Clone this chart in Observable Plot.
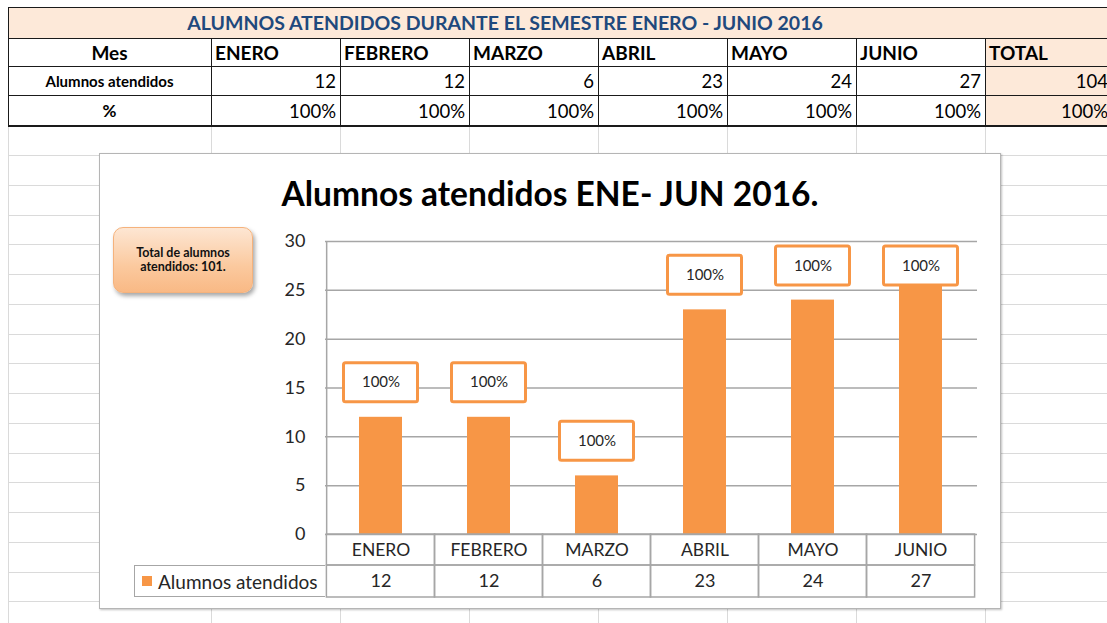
<!DOCTYPE html>
<html lang="es">
<head>
<meta charset="utf-8">
<script src="https://cdn.jsdelivr.net/npm/d3@7"></script>
<script src="https://cdn.jsdelivr.net/npm/@observablehq/plot@0.6"></script>
<style>
html,body{margin:0;padding:0;}
body{width:1107px;height:623px;overflow:hidden;position:relative;background:#fff;font-family:Lato,"Open Sans",sans-serif;color:#000;}
.cell{position:absolute;white-space:nowrap;display:flex;align-items:center;overflow:hidden;box-sizing:border-box;}
#chartbox{position:absolute;left:99px;top:153px;width:900px;height:454px;border:1px solid #b5b5b5;background:#fff;box-shadow:1px 1px 2px rgba(0,0,0,0.25);}
#chartbox svg{position:absolute;left:0;top:0;}
#ctitle{position:absolute;left:0;width:900px;top:19px;line-height:40px;text-align:center;font-size:33.5px;font-weight:bold;color:#000;white-space:nowrap;}
#callout{position:absolute;left:13px;top:73px;width:140px;height:66px;box-sizing:border-box;border:1px solid #f5b27c;border-radius:10px;
  background:linear-gradient(#fde6d3,#fbc99e 60%,#f9b985);box-shadow:2px 3px 4px rgba(0,0,0,0.35);
  display:flex;flex-direction:column;align-items:center;justify-content:center;font-size:12.5px;font-weight:bold;line-height:14px;color:#111;}
#legendcell{position:absolute;left:34px;top:411px;width:191px;height:32px;box-sizing:border-box;border:1.5px solid #a6a6a6;border-right:none;
  display:flex;align-items:center;font-size:19px;color:#262626;white-space:nowrap;}
#legendcell .sw{width:10px;height:10px;background:#F79646;margin:0 6px 0 7px;flex:none;}
</style>
</head>
<body>
<div id="sheet"></div>
<div id="chartbox"><div id="ctitle"></div><div id="callout"></div><div id="legendcell"></div></div>
<script>
// ---------- data ----------
const months = ["ENERO", "FEBRERO", "MARZO", "ABRIL", "MAYO", "JUNIO"];
const attended = [12, 12, 6, 23, 24, 27];
const percent = ["100%", "100%", "100%", "100%", "100%", "100%"];
const totalLabel = "TOTAL";
const totalAttended = 104;
const totalPercent = "100%";
const yTicks = [0, 5, 10, 15, 20, 25, 30];
const sheetTitle = "ALUMNOS ATENDIDOS DURANTE EL SEMESTRE ENERO - JUNIO 2016";
const rowHeader = "Mes";
const rowLabels = ["Alumnos atendidos", "%"];
const chartTitle = "Alumnos atendidos ENE- JUN 2016.";
const calloutLines = ["Total de alumnos", "atendidos: 101."];
const seriesName = "Alumnos atendidos";

// ---------- spreadsheet background ----------
const sheet = document.getElementById("sheet");
function box(x, y, w, h, css) {
  const d = document.createElement("div");
  d.style.cssText = `position:absolute;left:${x}px;top:${y}px;width:${w}px;height:${h}px;${css || ""}`;
  sheet.appendChild(d);
  return d;
}
function cell(x1, x2, y1, y2, s, {align = "center", bold = false, size = 18, color = "#000", pad = 4} = {}) {
  const d = box(x1, y1, x2 - x1, y2 - y1, "");
  d.className = "cell";
  d.style.justifyContent = align === "left" ? "flex-start" : align === "right" ? "flex-end" : "center";
  d.style.padding = `0 ${pad}px`;
  d.style.fontSize = size + "px";
  d.style.fontWeight = bold ? "bold" : "normal";
  d.style.color = color;
  d.textContent = s;
  return d;
}
const colEdges = [8, 211, 340, 469, 598, 727, 856, 985, 1114];
const rowEdges = [7, 38, 66, 95, 126];
for (let y = 155; y < 623; y += 29.75) box(8, Math.round(y), 1099, 1, "background:#dadada");
for (const x of colEdges.slice(0, 8)) box(x, 127, 1, 496, "background:#dadada");
// fills
box(8, 7, 1099, 31, "background:#fde9d9");
box(985, 38, 122, 88, "background:#fde9d9");
// texts
cell(8, 1002, 7, 38, sheetTitle, {bold: true, size: 19.5, color: "#1F497D"});
cell(8, 211, 38, 66, rowHeader, {bold: true, size: 19});
cell(8, 211, 66, 95, rowLabels[0], {bold: true, size: 15});
cell(8, 211, 95, 126, rowLabels[1], {bold: true, size: 17});
months.forEach((m, i) => {
  const x1 = colEdges[i + 1], x2 = colEdges[i + 2];
  cell(x1, x2, 38, 66, m, {align: "left", bold: true, size: 19, pad: 4});
  cell(x1, x2, 66, 95, String(attended[i]), {align: "right", size: 18.5, pad: 4});
  cell(x1, x2, 95, 126, percent[i], {align: "right", size: 18.5, pad: 4});
});
cell(985, 1114, 38, 66, totalLabel, {align: "left", bold: true, size: 19, pad: 4});
cell(985, 1114, 66, 95, String(totalAttended), {align: "right", size: 18.5, pad: 6});
cell(985, 1114, 95, 126, totalPercent, {align: "right", size: 18.5, pad: 6});
// borders
for (const y of rowEdges.slice(0, 4)) box(8, y, 1099, 1, "background:#1a1a1a");
box(8, 125, 1099, 2, "background:#1a1a1a");
box(8, 7, 1, 120, "background:#1a1a1a");
for (const x of colEdges.slice(1, 8)) box(x, 38, 1, 88, "background:#1a1a1a");

// ---------- chart ----------
document.getElementById("ctitle").textContent = chartTitle;
const co = document.getElementById("callout");
calloutLines.forEach(t => { const s = document.createElement("div"); s.textContent = t; co.appendChild(s); });
const lc = document.getElementById("legendcell");
lc.innerHTML = `<span class="sw"></span><span></span>`;
lc.lastChild.textContent = seriesName;

const data = months.map((m, i) => ({month: m, value: attended[i], pct: percent[i]}));
const W = 900, H = 454, mL = 225, mR = 23, mT = 87, mB = 74;
const step = (W - mL - mR) / months.length;
const halfGap = step * 0.3;
const labelY = v => Math.min(v + 3.55, 27.5);
const orange = "#F79646", lineGray = "#a6a6a6", ink = "#262626";

const chart = Plot.plot({
  width: W, height: H,
  marginLeft: mL, marginRight: mR, marginTop: mT, marginBottom: mB,
  style: {fontFamily: "Lato, sans-serif", background: "transparent", overflow: "visible"},
  x: {domain: months, paddingInner: 0.6, paddingOuter: 0.3, axis: null},
  y: {domain: [0, 30], axis: null},
  marks: [
    Plot.ruleY(yTicks, {stroke: lineGray, strokeWidth: 1.5}),
    Plot.ruleX([months[0]], {dx: -step / 2, y1: 0, y2: 30, stroke: lineGray, strokeWidth: 1.5}),
    Plot.axisY(yTicks, {tickSize: 0, tickPadding: 20, fontSize: 18, color: ink, label: null}),
    Plot.barY(data, {x: "month", y: "value", fill: orange}),
    Plot.barY(data, {x: "month", y1: d => labelY(d.value), y2: d => labelY(d.value),
      insetLeft: -15.5, insetRight: -15.5, insetTop: -19.5, insetBottom: -19.5,
      fill: "white", stroke: orange, strokeWidth: 3, rx: 2}),
    Plot.text(data, {x: "month", y: d => labelY(d.value), text: "pct", fontSize: 15, fill: ink}),
    // data table under the axis
    Plot.barY(data, {x: "month", y1: 0, y2: 0, insetTop: 0, insetBottom: -31,
      insetLeft: -halfGap, insetRight: -halfGap, fill: "none", stroke: lineGray, strokeWidth: 1.5}),
    Plot.barY(data, {x: "month", y1: 0, y2: 0, insetTop: 31, insetBottom: -63,
      insetLeft: -halfGap, insetRight: -halfGap, fill: "none", stroke: lineGray, strokeWidth: 1.5}),
    Plot.text(data, {x: "month", y: 0, dy: 16, text: "month", fontSize: 17.5, fill: ink}),
    Plot.text(data, {x: "month", y: 0, dy: 47, text: d => String(d.value), fontSize: 18, fill: ink})
  ]
});
document.getElementById("chartbox").appendChild(chart);
</script>
</body>
</html>
